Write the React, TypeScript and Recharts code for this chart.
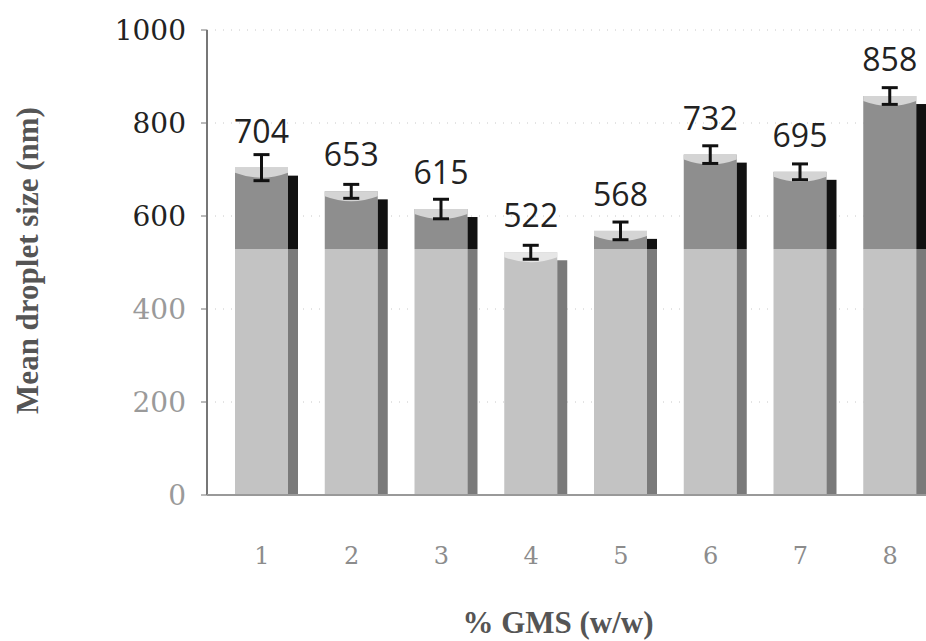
import { Bar, BarChart, CartesianGrid, ErrorBar, LabelList, XAxis, YAxis } from 'recharts'

const GMS_LEVELS = ['1', '2', '3', '4', '5', '6', '7', '8']
const MEAN_SIZE = [704, 653, 615, 522, 568, 732, 695, 858]
const SIZE_ERR = [28, 15, 21, 15, 19, 19, 17, 18]
const Y_TICKS = [0, 200, 400, 600, 800, 1000]

// the lower part of the scanned figure is washed out below this level
const FADE_LEVEL = 529

const rows = GMS_LEVELS.map((name, i) => ({ name, size: MEAN_SIZE[i], err: SIZE_ERR[i] }))

const SHADE_W = 10
const DEPTH = 8

function CylinderBar(props: any) {
  const { x, y, width, height, payload } = props
  if (!height || height <= 0) return null
  const v = payload.size as number
  const bottom = y + height
  const fadeY = Math.max(y, bottom - height * (FADE_LEVEL / v))
  const sy = y + DEPTH
  const sSplit = Math.max(sy, fadeY)
  const capFill = y < fadeY ? '#d4d4d4' : '#e6e6e6'
  return (
    <g>
      <rect x={x} y={y} width={width} height={fadeY - y} fill="#8e8e8e" />
      <rect x={x} y={fadeY} width={width} height={bottom - fadeY} fill="#c3c3c3" />
      <rect x={x + width} y={sy} width={SHADE_W} height={sSplit - sy} fill="#111" />
      <rect x={x + width} y={sSplit} width={SHADE_W} height={bottom - sSplit} fill="#7a7a7a" />
      <path
        d={`M${x},${y} L${x + width},${y} L${x + width},${y + 5} Q${x + width / 2},${y + 15} ${x},${y + 5} Z`}
        fill={capFill}
      />
    </g>
  )
}

function YTick(props: any) {
  const { x, y, payload } = props
  const v = payload.value as number
  return (
    <text x={x} y={y} dy="0.36em" textAnchor="end" fontFamily="DejaVu Serif" fontSize={28} fill={v >= 600 ? '#222' : '#9a9a9a'}>
      {v}
    </text>
  )
}

function XTick(props: any) {
  const { x, y, payload } = props
  return (
    <text x={x} y={y} dy="0.36em" textAnchor="middle" fontFamily="DejaVu Serif" fontSize={24} fill="#8c8c8c">
      {payload.value}
    </text>
  )
}

export default function App() {
  return (
    <div style={{ position: 'absolute', left: 8, top: 8, width: 918, height: 633, overflow: 'hidden', background: '#fff' }}>
      <BarChart width={940} height={633} data={rows} margin={{ top: 22, right: 13, bottom: 0, left: 0 }}>
        <CartesianGrid horizontal vertical={false} stroke="#c8c8c8" strokeDasharray="1 7" />
        <YAxis
          width={199}
          domain={[0, 1000]}
          ticks={Y_TICKS}
          interval={0}
          axisLine={{ stroke: '#777', strokeWidth: 2 }}
          tickLine={{ stroke: '#777' }}
          tickSize={6}
          tickMargin={15}
          tick={<YTick />}
          label={{
            value: 'Mean droplet size (nm)',
            angle: -90,
            position: 'insideLeft',
            offset: 19,
            dy: -2,
            style: { textAnchor: 'middle', fontFamily: 'Liberation Serif', fontWeight: 'bold', fontSize: 31, fill: '#555' },
          }}
        />
        <XAxis
          dataKey="name"
          height={146}
          padding={{ left: 10, right: 0 }}
          axisLine={{ stroke: '#999', strokeWidth: 2 }}
          tickLine={false}
          tickSize={0}
          tickMargin={60}
          tick={<XTick />}
          label={{
            value: '% GMS (w/w)',
            position: 'insideBottom',
            offset: 8,
            dx: -13,
            style: { fontFamily: 'Liberation Serif', fontWeight: 'bold', fontSize: 31, fill: '#555' },
          }}
        />
        <Bar dataKey="size" barSize={53} shape={<CylinderBar />} isAnimationActive={false}>
          <ErrorBar dataKey="err" width={8} strokeWidth={3} stroke="#111" direction="y" />
          <LabelList dataKey="size" position="top" offset={25} fontFamily="Open Sans" fontSize={32} fill="#222" />
        </Bar>
      </BarChart>
    </div>
  )
}
